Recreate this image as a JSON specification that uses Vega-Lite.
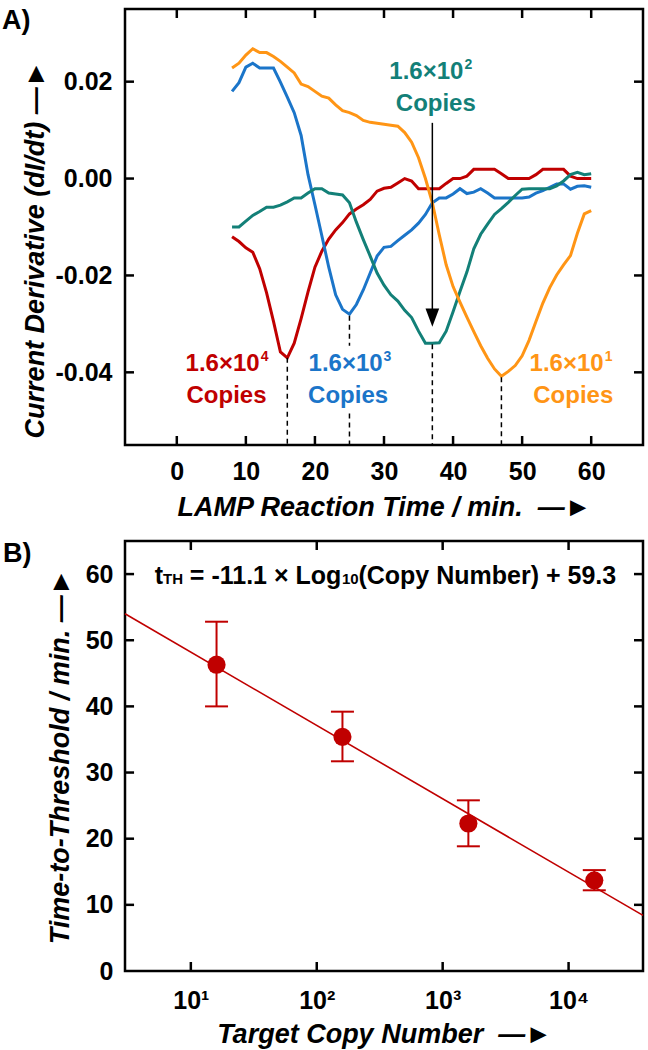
{
  "$schema": "https://vega.github.io/schema/vega-lite/v6.json",
  "background": "white",
  "padding": {"left": 0, "top": 5, "right": 5, "bottom": 5},
  "config": {
    "font": "Liberation Sans",
    "view": {"stroke": "black", "strokeWidth": 2.5},
    "axis": {
      "domain": false, "grid": false, "ticks": false,
      "labelFont": "Liberation Sans", "labelFontSize": 25, "labelFontWeight": "bold", "labelColor": "black", "labelPadding": 13,
      "titleFont": "Liberation Sans", "titleFontSize": 27, "titleFontWeight": "bold", "titleFontStyle": "italic", "titleColor": "black", "titlePadding": 8
    },
    "concat": {"spacing": 16}
  },
  "datasets": {
    "curves": [
      {"s":"16000","t":8,"v":-0.012},{"s":"16000","t":9,"v":-0.013},{"s":"16000","t":10,"v":-0.0143},{"s":"16000","t":11,"v":-0.0152},{"s":"16000","t":12,"v":-0.0186},{"s":"16000","t":13,"v":-0.0236},{"s":"16000","t":14,"v":-0.0295},{"s":"16000","t":15,"v":-0.0358},{"s":"16000","t":16,"v":-0.037},{"s":"16000","t":17,"v":-0.034},{"s":"16000","t":18,"v":-0.0289},{"s":"16000","t":19,"v":-0.0234},{"s":"16000","t":20,"v":-0.0183},{"s":"16000","t":21,"v":-0.015},{"s":"16000","t":22,"v":-0.0125},{"s":"16000","t":23,"v":-0.0106},{"s":"16000","t":24,"v":-0.0091},{"s":"16000","t":25,"v":-0.0073},{"s":"16000","t":26,"v":-0.0063},{"s":"16000","t":27,"v":-0.0054},{"s":"16000","t":28,"v":-0.0043},{"s":"16000","t":29,"v":-0.0026},{"s":"16000","t":30,"v":-0.002},{"s":"16000","t":31,"v":-0.0018},{"s":"16000","t":32,"v":-0.0009},{"s":"16000","t":33,"v":0},{"s":"16000","t":34,"v":-0.0005},{"s":"16000","t":35,"v":-0.0021},{"s":"16000","t":36,"v":-0.0021},{"s":"16000","t":37,"v":-0.0021},{"s":"16000","t":38,"v":-0.0021},{"s":"16000","t":39,"v":-0.001},{"s":"16000","t":40,"v":0},{"s":"16000","t":41,"v":0},{"s":"16000","t":42,"v":0.0005},{"s":"16000","t":43,"v":0.0019},{"s":"16000","t":44,"v":0.0019},{"s":"16000","t":45,"v":0.0019},{"s":"16000","t":46,"v":0.0019},{"s":"16000","t":47,"v":0.001},{"s":"16000","t":48,"v":0},{"s":"16000","t":49,"v":0},{"s":"16000","t":50,"v":0},{"s":"16000","t":51,"v":0},{"s":"16000","t":52,"v":0.0008},{"s":"16000","t":53,"v":0.0019},{"s":"16000","t":54,"v":0.0019},{"s":"16000","t":55,"v":0.0019},{"s":"16000","t":56,"v":0.0019},{"s":"16000","t":57,"v":0.0005},{"s":"16000","t":58,"v":0},{"s":"16000","t":59,"v":0},{"s":"16000","t":60,"v":0},
      {"s":"1600","t":8,"v":0.018},{"s":"1600","t":9,"v":0.0198},{"s":"1600","t":10,"v":0.023},{"s":"1600","t":11,"v":0.0238},{"s":"1600","t":12,"v":0.0228},{"s":"1600","t":13,"v":0.0228},{"s":"1600","t":14,"v":0.0228},{"s":"1600","t":15,"v":0.0199},{"s":"1600","t":16,"v":0.0168},{"s":"1600","t":17,"v":0.0136},{"s":"1600","t":18,"v":0.0089},{"s":"1600","t":19,"v":0.0008},{"s":"1600","t":20,"v":-0.0054},{"s":"1600","t":21,"v":-0.0118},{"s":"1600","t":22,"v":-0.0183},{"s":"1600","t":23,"v":-0.024},{"s":"1600","t":24,"v":-0.027},{"s":"1600","t":25,"v":-0.028},{"s":"1600","t":26,"v":-0.026},{"s":"1600","t":27,"v":-0.023},{"s":"1600","t":28,"v":-0.0195},{"s":"1600","t":29,"v":-0.016},{"s":"1600","t":30,"v":-0.0142},{"s":"1600","t":31,"v":-0.014},{"s":"1600","t":32,"v":-0.0128},{"s":"1600","t":33,"v":-0.0117},{"s":"1600","t":34,"v":-0.0106},{"s":"1600","t":35,"v":-0.0092},{"s":"1600","t":36,"v":-0.0074},{"s":"1600","t":37,"v":-0.005},{"s":"1600","t":38,"v":-0.004},{"s":"1600","t":39,"v":-0.004},{"s":"1600","t":40,"v":-0.0032},{"s":"1600","t":41,"v":-0.0021},{"s":"1600","t":42,"v":-0.0031},{"s":"1600","t":43,"v":-0.0028},{"s":"1600","t":44,"v":-0.0021},{"s":"1600","t":45,"v":-0.003},{"s":"1600","t":46,"v":-0.004},{"s":"1600","t":47,"v":-0.004},{"s":"1600","t":48,"v":-0.004},{"s":"1600","t":49,"v":-0.004},{"s":"1600","t":50,"v":-0.004},{"s":"1600","t":51,"v":-0.0038},{"s":"1600","t":52,"v":-0.003},{"s":"1600","t":53,"v":-0.0025},{"s":"1600","t":54,"v":-0.0018},{"s":"1600","t":55,"v":-0.0011},{"s":"1600","t":56,"v":-0.0011},{"s":"1600","t":57,"v":-0.0022},{"s":"1600","t":58,"v":-0.0016},{"s":"1600","t":59,"v":-0.0015},{"s":"1600","t":60,"v":-0.0018},
      {"s":"160","t":8,"v":-0.01},{"s":"160","t":9,"v":-0.01},{"s":"160","t":10,"v":-0.0088},{"s":"160","t":11,"v":-0.0076},{"s":"160","t":12,"v":-0.0068},{"s":"160","t":13,"v":-0.0059},{"s":"160","t":14,"v":-0.0059},{"s":"160","t":15,"v":-0.0055},{"s":"160","t":16,"v":-0.0048},{"s":"160","t":17,"v":-0.004},{"s":"160","t":18,"v":-0.004},{"s":"160","t":19,"v":-0.003},{"s":"160","t":20,"v":-0.0021},{"s":"160","t":21,"v":-0.0021},{"s":"160","t":22,"v":-0.003},{"s":"160","t":23,"v":-0.0032},{"s":"160","t":24,"v":-0.0034},{"s":"160","t":25,"v":-0.005},{"s":"160","t":26,"v":-0.009},{"s":"160","t":27,"v":-0.0126},{"s":"160","t":28,"v":-0.016},{"s":"160","t":29,"v":-0.0195},{"s":"160","t":30,"v":-0.022},{"s":"160","t":31,"v":-0.024},{"s":"160","t":32,"v":-0.0253},{"s":"160","t":33,"v":-0.0272},{"s":"160","t":34,"v":-0.0287},{"s":"160","t":35,"v":-0.0315},{"s":"160","t":36,"v":-0.034},{"s":"160","t":37,"v":-0.034},{"s":"160","t":38,"v":-0.0339},{"s":"160","t":39,"v":-0.0315},{"s":"160","t":40,"v":-0.0275},{"s":"160","t":41,"v":-0.0233},{"s":"160","t":42,"v":-0.0193},{"s":"160","t":43,"v":-0.0145},{"s":"160","t":44,"v":-0.0115},{"s":"160","t":45,"v":-0.0094},{"s":"160","t":46,"v":-0.0074},{"s":"160","t":47,"v":-0.0062},{"s":"160","t":48,"v":-0.0049},{"s":"160","t":49,"v":-0.0035},{"s":"160","t":50,"v":-0.0022},{"s":"160","t":51,"v":-0.0021},{"s":"160","t":52,"v":-0.0021},{"s":"160","t":53,"v":-0.0021},{"s":"160","t":54,"v":-0.0021},{"s":"160","t":55,"v":-0.0015},{"s":"160","t":56,"v":-0.0005},{"s":"160","t":57,"v":0.0008},{"s":"160","t":58,"v":0.0013},{"s":"160","t":59,"v":0.0008},{"s":"160","t":60,"v":0.001},
      {"s":"16","t":8,"v":0.0228},{"s":"16","t":9,"v":0.0238},{"s":"16","t":10,"v":0.0255},{"s":"16","t":11,"v":0.0268},{"s":"16","t":12,"v":0.026},{"s":"16","t":13,"v":0.026},{"s":"16","t":14,"v":0.0252},{"s":"16","t":15,"v":0.0242},{"s":"16","t":16,"v":0.023},{"s":"16","t":17,"v":0.0218},{"s":"16","t":18,"v":0.0195},{"s":"16","t":19,"v":0.019},{"s":"16","t":20,"v":0.018},{"s":"16","t":21,"v":0.017},{"s":"16","t":22,"v":0.0166},{"s":"16","t":23,"v":0.0152},{"s":"16","t":24,"v":0.014},{"s":"16","t":25,"v":0.0136},{"s":"16","t":26,"v":0.013},{"s":"16","t":27,"v":0.012},{"s":"16","t":28,"v":0.0116},{"s":"16","t":29,"v":0.0114},{"s":"16","t":30,"v":0.0112},{"s":"16","t":31,"v":0.011},{"s":"16","t":32,"v":0.0108},{"s":"16","t":33,"v":0.0095},{"s":"16","t":34,"v":0.0075},{"s":"16","t":35,"v":0.0043},{"s":"16","t":36,"v":0.0},{"s":"16","t":37,"v":-0.005},{"s":"16","t":38,"v":-0.0116},{"s":"16","t":39,"v":-0.0178},{"s":"16","t":40,"v":-0.0223},{"s":"16","t":41,"v":-0.0255},{"s":"16","t":42,"v":-0.0286},{"s":"16","t":43,"v":-0.0316},{"s":"16","t":44,"v":-0.0345},{"s":"16","t":45,"v":-0.0371},{"s":"16","t":46,"v":-0.0393},{"s":"16","t":47,"v":-0.0408},{"s":"16","t":48,"v":-0.0398},{"s":"16","t":49,"v":-0.0386},{"s":"16","t":50,"v":-0.0366},{"s":"16","t":51,"v":-0.0334},{"s":"16","t":52,"v":-0.0295},{"s":"16","t":53,"v":-0.0257},{"s":"16","t":54,"v":-0.0225},{"s":"16","t":55,"v":-0.0199},{"s":"16","t":56,"v":-0.0178},{"s":"16","t":57,"v":-0.0159},{"s":"16","t":58,"v":-0.0113},{"s":"16","t":59,"v":-0.0073},{"s":"16","t":60,"v":-0.0066}
    ],
    "tickAx": [
      {"t":0,"a":-0.055,"b":-0.05314},{"t":10,"a":-0.055,"b":-0.05314},{"t":20,"a":-0.055,"b":-0.05314},{"t":30,"a":-0.055,"b":-0.05314},{"t":40,"a":-0.055,"b":-0.05314},{"t":50,"a":-0.055,"b":-0.05314},{"t":60,"a":-0.055,"b":-0.05314},
      {"t":0,"a":0.035,"b":0.03314},{"t":10,"a":0.035,"b":0.03314},{"t":20,"a":0.035,"b":0.03314},{"t":30,"a":0.035,"b":0.03314},{"t":40,"a":0.035,"b":0.03314},{"t":50,"a":0.035,"b":0.03314},{"t":60,"a":0.035,"b":0.03314}
    ],
    "tickAy": [
      {"v":-0.04,"a":-7.5,"b":-6.2},{"v":-0.02,"a":-7.5,"b":-6.2},{"v":0,"a":-7.5,"b":-6.2},{"v":0.02,"a":-7.5,"b":-6.2},
      {"v":-0.04,"a":67.5,"b":66.2},{"v":-0.02,"a":67.5,"b":66.2},{"v":0,"a":67.5,"b":66.2},{"v":0.02,"a":67.5,"b":66.2}
    ],
    "tickBx": [
      {"copies":10,"a":0,"b":1.36},{"copies":100,"a":0,"b":1.36},{"copies":1000,"a":0,"b":1.36},{"copies":10000,"a":0,"b":1.36},
      {"copies":10,"a":65,"b":63.64},{"copies":100,"a":65,"b":63.64},{"copies":1000,"a":65,"b":63.64},{"copies":10000,"a":65,"b":63.64}
    ],
    "tickBy": [
      {"tth":10,"a":3,"b":3.54},{"tth":20,"a":3,"b":3.54},{"tth":30,"a":3,"b":3.54},{"tth":40,"a":3,"b":3.54},{"tth":50,"a":3,"b":3.54},{"tth":60,"a":3,"b":3.54},
      {"tth":10,"a":39000,"b":33080},{"tth":20,"a":39000,"b":33080},{"tth":30,"a":39000,"b":33080},{"tth":40,"a":39000,"b":33080},{"tth":50,"a":39000,"b":33080},{"tth":60,"a":39000,"b":33080}
    ],
    "dashes": [
      {"t":16,"y1":-0.037,"y2":-0.055},
      {"t":25,"y1":-0.0283,"y2":-0.0345},
      {"t":25,"y1":-0.0485,"y2":-0.055},
      {"t":37,"y1":-0.0342,"y2":-0.055},
      {"t":47,"y1":-0.041,"y2":-0.055}
    ],
    "arrow": [{"t":37,"y1":0.0115,"y2":-0.027,"v":-0.0287}],
    "labNum": [
      {"s":"16000","txt":"1.6×10","sup":"4","t":12.0,"v":-0.0397},
      {"s":"1600","txt":"1.6×10","sup":"3","t":29.8,"v":-0.0397},
      {"s":"160","txt":"1.6×10","sup":"2","t":41.5,"v":0.0206},
      {"s":"16","txt":"1.6×10","sup":"1","t":61.8,"v":-0.0397}
    ],
    "labCopies": [
      {"s":"16000","txt":"Copies","t":7.2,"v":-0.0463},
      {"s":"1600","txt":"Copies","t":24.8,"v":-0.0463},
      {"s":"160","txt":"Copies","t":37.5,"v":0.0139},
      {"s":"16","txt":"Copies","t":57.4,"v":-0.0463}
    ],
    "panelA": [{"t":-25.3,"v":0.0309}],
    "panelB": [{"copies":0.322,"tth":61.9}],
    "points": [
      {"copies":16,"tth":46.3,"lo":40.0,"hi":52.8},
      {"copies":160,"tth":35.4,"lo":31.7,"hi":39.2},
      {"copies":1600,"tth":22.3,"lo":18.85,"hi":25.8},
      {"copies":16000,"tth":13.7,"lo":12.2,"hi":15.25}
    ],
    "fit": [{"copies":3,"tth":54.0},{"copies":39000,"tth":8.4}],
    "eqBig": [
      {"copies":5.18,"tth":58.5,"txt":"t"},
      {"copies":9.82,"tth":58.5,"txt":"= -11.1 × Log"},
      {"copies":214.3,"tth":58.5,"txt":"(Copy Number) + 59.3"}
    ],
    "eqSmall": [
      {"copies":6.02,"tth":58.5,"txt":"TH"},
      {"copies":158.5,"tth":58.5,"txt":"10"}
    ]
  },
  "vconcat": [
    {
      "width": 518,
      "height": 436,
      "resolve": {"axis": {"x": "independent", "y": "independent"}},
      "layer": [
        {
          "data": {"name": "curves"},
          "mark": {"type": "line", "strokeWidth": 3},
          "encoding": {
            "x": {"field": "t", "type": "quantitative", "scale": {"domain": [-7.5, 67.5], "nice": false, "zero": false},
                  "axis": {"orient": "bottom", "values": [0,10,20,30,40,50,60], "labelPadding": 14, "titlePadding": 10, "title": "LAMP Reaction Time / min.\u00a0\u00a0—►"}},
            "y": {"field": "v", "type": "quantitative", "scale": {"domain": [-0.055, 0.035], "nice": false, "zero": false},
                  "axis": {"orient": "left", "values": [-0.04,-0.02,0,0.02], "labelExpr": "datum.value < 0 ? '-' + format(-datum.value, '.2f') : format(datum.value, '.2f')", "title": "Current Derivative (dI/dt) —►", "titleY": 240, "labelPadding": 13, "titlePadding": 6}},
            "color": {"field": "s", "type": "nominal", "scale": {"domain": ["16000","1600","160","16"], "range": ["#C00000","#1B75C9","#138078","#FF9515"]}, "legend": null},
            "detail": {"field": "s"}
          }
        },
        {
          "data": {"name": "tickAx"},
          "mark": {"type": "rule", "strokeWidth": 2.5, "color": "black"},
          "encoding": {
            "x": {"field": "t", "type": "quantitative", "scale": {"domain": [-7.5, 67.5], "nice": false, "zero": false}, "axis": null},
            "y": {"field": "a", "type": "quantitative", "scale": {"domain": [-0.055, 0.035], "nice": false, "zero": false}, "axis": null},
            "y2": {"field": "b"}
          }
        },
        {
          "data": {"name": "tickAy"},
          "mark": {"type": "rule", "strokeWidth": 2.5, "color": "black"},
          "encoding": {
            "x": {"field": "a", "type": "quantitative", "scale": {"domain": [-7.5, 67.5], "nice": false, "zero": false}, "axis": null},
            "x2": {"field": "b"},
            "y": {"field": "v", "type": "quantitative", "scale": {"domain": [-0.055, 0.035], "nice": false, "zero": false}, "axis": null}
          }
        },
        {
          "data": {"name": "dashes"},
          "mark": {"type": "rule", "strokeDash": [5,4], "strokeWidth": 1.5, "color": "black"},
          "encoding": {
            "x": {"field": "t", "type": "quantitative", "scale": {"domain": [-7.5, 67.5], "nice": false, "zero": false}, "axis": null},
            "y": {"field": "y1", "type": "quantitative", "scale": {"domain": [-0.055, 0.035], "nice": false, "zero": false}, "axis": null},
            "y2": {"field": "y2"}
          }
        },
        {
          "data": {"name": "arrow"},
          "mark": {"type": "rule", "strokeWidth": 1.5, "color": "black"},
          "encoding": {
            "x": {"field": "t", "type": "quantitative", "scale": {"domain": [-7.5, 67.5], "nice": false, "zero": false}, "axis": null},
            "y": {"field": "y1", "type": "quantitative", "scale": {"domain": [-0.055, 0.035], "nice": false, "zero": false}, "axis": null},
            "y2": {"field": "y2"}
          }
        },
        {
          "data": {"name": "arrow"},
          "mark": {"type": "point", "shape": "M-0.75,-1L0.75,-1L0,1Z", "filled": true, "color": "black", "size": 330, "opacity": 1},
          "encoding": {
            "x": {"field": "t", "type": "quantitative", "scale": {"domain": [-7.5, 67.5], "nice": false, "zero": false}, "axis": null},
            "y": {"field": "v", "type": "quantitative", "scale": {"domain": [-0.055, 0.035], "nice": false, "zero": false}, "axis": null}
          }
        },
        {
          "data": {"name": "labNum"},
          "mark": {"type": "text", "fontSize": 24, "fontWeight": "bold", "font": "Liberation Sans", "align": "right", "baseline": "alphabetic"},
          "encoding": {
            "x": {"field": "t", "type": "quantitative", "scale": {"domain": [-7.5, 67.5], "nice": false, "zero": false}, "axis": null},
            "y": {"field": "v", "type": "quantitative", "scale": {"domain": [-0.055, 0.035], "nice": false, "zero": false}, "axis": null},
            "text": {"field": "txt"},
            "color": {"field": "s", "type": "nominal", "scale": {"domain": ["16000","1600","160","16"], "range": ["#C00000","#1B75C9","#138078","#FF9515"]}, "legend": null}
          }
        },
        {
          "data": {"name": "labNum"},
          "mark": {"type": "text", "fontSize": 14, "fontWeight": "bold", "font": "Liberation Sans", "align": "left", "baseline": "alphabetic", "dx": 1, "dy": -10},
          "encoding": {
            "x": {"field": "t", "type": "quantitative", "scale": {"domain": [-7.5, 67.5], "nice": false, "zero": false}, "axis": null},
            "y": {"field": "v", "type": "quantitative", "scale": {"domain": [-0.055, 0.035], "nice": false, "zero": false}, "axis": null},
            "text": {"field": "sup"},
            "color": {"field": "s", "type": "nominal", "scale": {"domain": ["16000","1600","160","16"], "range": ["#C00000","#1B75C9","#138078","#FF9515"]}, "legend": null}
          }
        },
        {
          "data": {"name": "labCopies"},
          "mark": {"type": "text", "fontSize": 24, "fontWeight": "bold", "font": "Liberation Sans", "align": "center", "baseline": "alphabetic"},
          "encoding": {
            "x": {"field": "t", "type": "quantitative", "scale": {"domain": [-7.5, 67.5], "nice": false, "zero": false}, "axis": null},
            "y": {"field": "v", "type": "quantitative", "scale": {"domain": [-0.055, 0.035], "nice": false, "zero": false}, "axis": null},
            "text": {"field": "txt"},
            "color": {"field": "s", "type": "nominal", "scale": {"domain": ["16000","1600","160","16"], "range": ["#C00000","#1B75C9","#138078","#FF9515"]}, "legend": null}
          }
        },
        {
          "data": {"name": "panelA"},
          "mark": {"type": "text", "fontSize": 27, "fontWeight": "bold", "font": "Liberation Sans", "align": "left", "baseline": "alphabetic", "color": "black"},
          "encoding": {
            "x": {"field": "t", "type": "quantitative", "scale": {"domain": [-7.5, 67.5], "nice": false, "zero": false}, "axis": null},
            "y": {"field": "v", "type": "quantitative", "scale": {"domain": [-0.055, 0.035], "nice": false, "zero": false}, "axis": null},
            "text": {"value": "A)"}
          }
        }
      ]
    },
    {
      "width": 518,
      "height": 430,
      "resolve": {"axis": {"x": "independent", "y": "independent"}},
      "layer": [
        {
          "data": {"name": "fit"},
          "mark": {"type": "line", "strokeWidth": 1.6, "color": "#C00000"},
          "encoding": {
            "x": {"field": "copies", "type": "quantitative", "scale": {"type": "log", "domain": [3, 39000], "nice": false},
                  "axis": {"orient": "bottom", "values": [10,100,1000,10000], "labelExpr": "'10' + (datum.value < 50 ? '¹' : datum.value < 500 ? '²' : datum.value < 5000 ? '³' : '⁴')", "title": "Target Copy Number\u00a0\u00a0—►", "labelPadding": 17, "titlePadding": 8}},
            "y": {"field": "tth", "type": "quantitative", "scale": {"domain": [0, 65], "nice": false, "zero": false},
                  "axis": {"orient": "left", "values": [0,10,20,30,40,50,60], "title": "Time-to-Threshold / min. —►", "labelPadding": 12, "titlePadding": 11}}
          }
        },
        {
          "data": {"name": "tickBx"},
          "mark": {"type": "rule", "strokeWidth": 2.5, "color": "black"},
          "encoding": {
            "x": {"field": "copies", "type": "quantitative", "scale": {"type": "log", "domain": [3, 39000], "nice": false}, "axis": null},
            "y": {"field": "a", "type": "quantitative", "scale": {"domain": [0, 65], "nice": false, "zero": false}, "axis": null},
            "y2": {"field": "b"}
          }
        },
        {
          "data": {"name": "tickBy"},
          "mark": {"type": "rule", "strokeWidth": 2.5, "color": "black"},
          "encoding": {
            "x": {"field": "a", "type": "quantitative", "scale": {"type": "log", "domain": [3, 39000], "nice": false}, "axis": null},
            "x2": {"field": "b"},
            "y": {"field": "tth", "type": "quantitative", "scale": {"domain": [0, 65], "nice": false, "zero": false}, "axis": null}
          }
        },
        {
          "data": {"name": "points"},
          "mark": {"type": "rule", "strokeWidth": 2, "color": "#C00000"},
          "encoding": {
            "x": {"field": "copies", "type": "quantitative", "scale": {"type": "log", "domain": [3, 39000], "nice": false}, "axis": null},
            "y": {"field": "lo", "type": "quantitative", "scale": {"domain": [0, 65], "nice": false, "zero": false}, "axis": null},
            "y2": {"field": "hi"}
          }
        },
        {
          "data": {"name": "points"},
          "mark": {"type": "tick", "orient": "horizontal", "size": 23, "thickness": 2, "color": "#C00000", "opacity": 1},
          "encoding": {
            "x": {"field": "copies", "type": "quantitative", "scale": {"type": "log", "domain": [3, 39000], "nice": false}, "axis": null},
            "y": {"field": "lo", "type": "quantitative", "scale": {"domain": [0, 65], "nice": false, "zero": false}, "axis": null}
          }
        },
        {
          "data": {"name": "points"},
          "mark": {"type": "tick", "orient": "horizontal", "size": 23, "thickness": 2, "color": "#C00000", "opacity": 1},
          "encoding": {
            "x": {"field": "copies", "type": "quantitative", "scale": {"type": "log", "domain": [3, 39000], "nice": false}, "axis": null},
            "y": {"field": "hi", "type": "quantitative", "scale": {"domain": [0, 65], "nice": false, "zero": false}, "axis": null}
          }
        },
        {
          "data": {"name": "points"},
          "mark": {"type": "circle", "size": 330, "color": "#C00000", "opacity": 1},
          "encoding": {
            "x": {"field": "copies", "type": "quantitative", "scale": {"type": "log", "domain": [3, 39000], "nice": false}, "axis": null},
            "y": {"field": "tth", "type": "quantitative", "scale": {"domain": [0, 65], "nice": false, "zero": false}, "axis": null}
          }
        },
        {
          "data": {"name": "eqBig"},
          "mark": {"type": "text", "fontSize": 25, "fontWeight": "bold", "font": "Liberation Sans", "align": "left", "baseline": "alphabetic", "color": "black"},
          "encoding": {
            "x": {"field": "copies", "type": "quantitative", "scale": {"type": "log", "domain": [3, 39000], "nice": false}, "axis": null},
            "y": {"field": "tth", "type": "quantitative", "scale": {"domain": [0, 65], "nice": false, "zero": false}, "axis": null},
            "text": {"field": "txt"}
          }
        },
        {
          "data": {"name": "eqSmall"},
          "mark": {"type": "text", "fontSize": 15, "fontWeight": "bold", "font": "Liberation Sans", "align": "left", "baseline": "alphabetic", "color": "black"},
          "encoding": {
            "x": {"field": "copies", "type": "quantitative", "scale": {"type": "log", "domain": [3, 39000], "nice": false}, "axis": null},
            "y": {"field": "tth", "type": "quantitative", "scale": {"domain": [0, 65], "nice": false, "zero": false}, "axis": null},
            "text": {"field": "txt"}
          }
        },
        {
          "data": {"name": "panelB"},
          "mark": {"type": "text", "fontSize": 27, "fontWeight": "bold", "font": "Liberation Sans", "align": "left", "baseline": "alphabetic", "color": "black"},
          "encoding": {
            "x": {"field": "copies", "type": "quantitative", "scale": {"type": "log", "domain": [3, 39000], "nice": false}, "axis": null},
            "y": {"field": "tth", "type": "quantitative", "scale": {"domain": [0, 65], "nice": false, "zero": false}, "axis": null},
            "text": {"value": "B)"}
          }
        }
      ]
    }
  ]
}
